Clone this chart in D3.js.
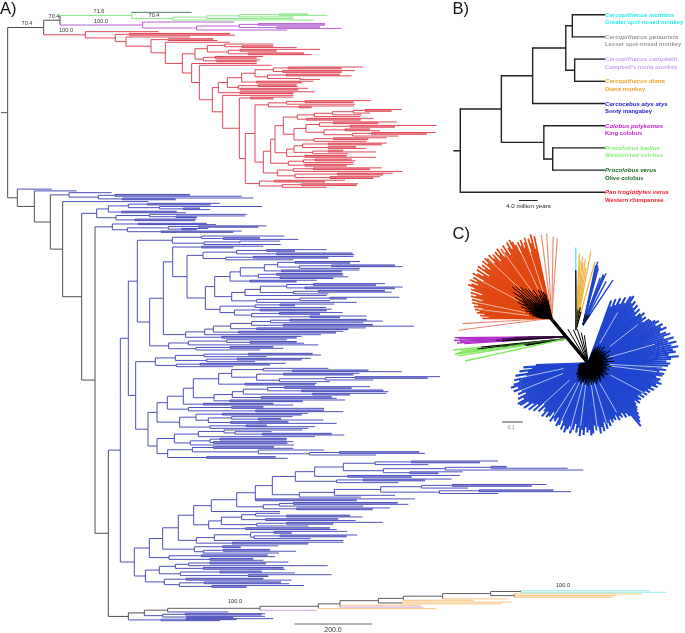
<!DOCTYPE html>
<html><head><meta charset="utf-8">
<script src="https://cdnjs.cloudflare.com/ajax/libs/d3/7.8.5/d3.min.js"></script>
<style>html,body{margin:0;padding:0;background:#fff}svg{display:block;filter:blur(0.3px)}text{font-family:"Liberation Sans",Arial,sans-serif}</style>
</head><body><svg id="c" width="685" height="633"></svg>
<script>
// ---------- Panel A data: node = [depth, child, child...], tip = depth ----------
const darkGreenTip=[575];
const greenClade=[395,darkGreenTip,[517,[620,[718,[838,925,982],880],880],940]];
const purpleClade=[428,702,[590,[718,[775,975,975],[830,960,1025]],862]];
const redClade=[256,476,[346,[388,690,705],[378,570,[453,[505,640,652],[496,690,[547,
 [585,[622,[674,820,[726,820,890]],[685,[720,960,830],[745,912,935]]],[610,[645,790,770],[650,780,770]]],
 [575,770,[598,815,[637,
  [655,[682,[725,[765,[820,[865,1090,1025],[848,1065,1025]],[803,[858,1020,1055],[900,900,960]]],[770,940,905]],[715,[775,890,893],[722,925,895]]],[720,945,880]],
  [668,880,[718,[752,880,820],[736,
   [765,[805,[860,[915,1112,1060],1065],[897,1062,935]],
    [790,[812,[825,
      [850,[892,[943,[997,[1060,[1095,1205,1175],1110],1085],1080],[920,1120,1082]],
       [882,[918,[958,[1000,1190,1135],[1050,1310,1185]],[972,[1035,1110,1140],[1058,[1115,1307,1280],1195]]],[942,[1000,1160,1105],1100]]],
      [860,[882,[908,[985,1160,1145],[985,1068,1098]],[938,[985,1030,1128],1045]],[915,1040,1128]]],
     [865,[910,[945,1055,1067],1060],[915,1060,1040]]],
     [832,[880,[940,1145,1110],1207],[885,[1013,1178,1150],[990,1140,1120]]]]],
   [778,[823,1035,975],[847,[905,1075,1070],980]]]]]]]]]]]]]];
const stemTips=[207,335,[295,[345,570,725],[368,760,527]]];
const b1=[290,[325,[385,[442,660,632],[478,787,[550,600,630]]],[365,530,558]],[348,[448,740,[528,735,590]],[405,590,585]]];
const b2=[337,[415,620,648],[382,[505,[595,800,775],[545,625,590]],[483,725,700]]];
const c1=[517,[605,853,[670,780,895]],[612,[720,840,718],842]];
const c2=[605,790,700];
const c3=[609,[710,[800,980,885],[830,1058,1063]],[677,[760,1060,985],880]];
const c4=[616,[644,[690,[721,[793,[833,[885,1080,1050],[898,[995,1185,1208],1080]],[845,1078,1025]],[775,[830,1028,1030],[840,1045,1000]]],[750,950,890]],
 [695,[735,[781,[860,[940,1155,1128],[915,1208,1185]],[880,[955,1155,1175],985]],980],[770,[900,[990,1198,1040],990],1070]]],
 [660,[765,[840,1003,885],978],[703,[780,995,980],[755,[838,1028,960],[930,1100,1020]]]]];
const c5=[557,[614,[640,[692,[755,[812,[870,1100,1148],1090],[850,1118,1242]],[770,1098,1045]],[715,1030,1008]],963],[665,905,890]];
const c6=[506,[565,[680,860,[750,890,912]],955],[588,[690,820,850],780]];
const b3=[412,c1,[449,[490,[518,c2,[561,c3,c4]],c5],c6]];
const k1=[466,[526,[612,[745,938,963],800],[620,[712,932,905],765]],[529,[600,857,810],700]];
const k2=[656,[695,[790,985,[877,1105,1205]],[770,[850,1078,1060],[838,[977,[1065,1320,1283],1120],990]]],[735,950,945]];
const k3=[642,[697,[730,[803,[853,1110,1055],[905,1150,1165]],[938,1160,1050]],[783,995,1010]],[690,1035,908]];
const k4=[610,820,880];
const k5=[565,[695,790,972],[767,972,1030]];
const k6=[539,[588,[667,925,905],[625,[695,878,[775,843,970]],[692,865,1010]]],[630,[738,800,945],925]];
const k8=[523,[595,[672,908,[705,815,[787,995,1033]]],945],[571,[630,[660,860,860],[640,880,862]],882]];
const k9=[503,[577,[640,822,880],[775,972,[928,[1018,1258,1275],1128]]],[620,827,863]];
const b4=[407,k1,[444,[471,[502,[550,[580,k2,k3],k4],k5],k6],[471,k8,k9]]];
const e1=[886,[944,[1030,[1125,[1234,1494,1440],1285],[1150,[1336,[1473,1520,1703],1750],[1230,1388,1315]]],[1043,1380,1235]],[1010,[1090,1355,1275],1195]];
const e2=[898,[1003,[1142,[1265,[1357,1640,1595],1403],[1318,[1437,1660,1713],1495]],1185],1083];
const e4=[790,[838,[880,1193,1225],1090],[890,1170,1118]];
const e6=[626,[664,[725,[767,840,[860,1050,1088]],[797,1015,1067]],[770,[860,1148,1000],925]],[737,990,1010]];
const e7=[589,[643,[752,[822,1042,875],[762,[840,1072,1040],932]],1030],[697,1030,925]];
const e8=[583,[668,835,722],[610,[670,810,888],837]];
const e9=[507,[605,803,825],[630,760,790]];
const e10=[436,[478,[526,[566,[630,865,798],983],[610,850,855]],[541,[660,785,885],[745,995,805]]],[493,[558,790,875],[538,[613,843,868],[636,912,740]]]];
const b5=[403,[448,[488,[535,[581,[634,[710,[766,[817,e1,e2],[767,1245,1070]],e4],840],e6],e7],e8],e9],e10];
const bottomBlue=[483,[558,820,710],660];
const bottomBlue2=[488,[555,795,785],[560,795,700]];
const cyanTips=[[1950],[2000]];
const orangeTips=[[1925],[1848],[1835],[1525],[1420],[1535],[1505],[1260],[1310]];
const violetTips=[[1270],[950]];
const blueTip=[[685]];
const cercoClade=[503,[607,[780,[955,[1020,[1135,[1210,[1328,[1472,[1562,cyanTips[0],cyanTips[1]],[1543,orangeTips[0],orangeTips[1],orangeTips[2]]],orangeTips[3]],orangeTips[4]],[1205,orangeTips[5],orangeTips[6]]],orangeTips[7],violetTips[0]],orangeTips[8]],violetTips[1]]],blueTip[0]];
const midClade=[361,[385,b3,b4],b5];
const treeA=[23,[131,[180,greenClade,purpleClade],redClade],
 [52,155,[103,230,[151,stemTips,[188,445,[245,b1,[285,b2,[325,midClade,[385,[433,cercoClade,bottomBlue2],bottomBlue]]]]]]]]];
const supportLabels=["70.4","70.4","71.6","100.0","70.4","100.0","100.0","100.0"];
const scaleLabelA="200.0";
// ---------- Panel B data ----------
const treeB=[0,[8.8,[15.5,[22.6,[24,31,31],[24.5,31,31]],31],[17.9,31,[19.8,31,31]]],31];
const speciesNames=["Cercopithecus nictitans","Cercopithecus petaurista","Cercopithecus campbelli","Cercopithecus diana","Cercocebus atys atys","Colobus polykomos","Procolobus badius","Procolobus verus","Pan troglodytes verus"];
const commonNames=["Greater spot-nosed monkey","Lesser spot-nosed monkey","Campbell's mona monkey","Diana monkey","Sooty mangabey","King colobus","Western red colobus","Olive colobus","Western chimpanzee"];
const scaleLabelB="4.0 million years";
// ---------- Panel C data (branch lengths in 1/1000 substitutions) ----------
const blueLens=[318,290,332,305,345,320,360,335,378,386,352,370,340,362,330,355,318,342,360,335,352,325,358,362,
378,392,368,400,385,410,372,398,415,380,425,395,432,405,435,408,420,385,432,395,372,390,
380,352,372,340,365,358,330,352,345,362,338,349,320,338,310,325,300,318,290,312,282,305,295,310,285,300,315,322,340,358,372,390,
320,298,315,285,305,292,310,280,300,290,305,288,318,300,325,292,332,310,340,305,322,298,335,344,318,
330,305,342,318,349,310,335,295,325,345,312,330,349,318,342,300,325,336,295,320,310,332,285,315,326,300,336,
310,295,330,285,345,310,360,325,372,340,380,387,350,375,330,365,345,380,355,387,370,340,362,300,352,290,330,270,310,250];
const blueInner=[55,70,48,85,60,72,50,95,62,80,55,100,68,48,82,60,110,72,55,90,
 65,48,100,75,55,80,120,62,95,50,85,70,108,58,88,48,75,118,66,55,
 95,80,125,60,88,70,62,100,75,55,112,82,66,48,92,70,104,55,80,66,
 95,52,88,75,108,62,82,55,98,70,92,60,104,66,80,55,88,70,95,62,
 104,72,55,88,66,98,58,80,108,62,92,70,55,98,75,88,60,104,66,80,
 55,95,66,108,75,60,92,70,104,55,82,66,95,62,88,75,104,55,80,66,
 92,60,98,70,58,82,66,88,60,75,50,70,58,80,52,66,48,62,55,44,
 58,48,55,44,52,40,48,36,44,32,48,40,52,36,44,32,40,30,36,28];
const blueGaps=[[30,110,280],[52,130,300],[74,100,330],[93,100,360],[97,90,330],[118,120,300],[150,110,270],[163,100,300],[172,90,320],[187,100,300],[195,90,330],[205,100,310],[213,110,300],[228,120,330],[248,130,350],[258,120,330]];
const redLens=[400,340,413,370,395,330,405,385,360,402,375,398,345,390,410,425,380,420,395,360,418,385,408,370,422,390,415,365,412,395,425,378,418,428,
400,428,375,418,395,430,360,425,385,412,433,370,420,398,430,385,415,428,395,409,350,405,375,398,340,390,362,385,355,375,330,368,345,358,320,341,300,330];
const redInner=[90,60,120,75,55,130,85,65,140,70,105,60,150,80,55,125,70,95,
 60,160,85,65,130,55,175,90,70,190,100,65,210,120,75,230,140,85,
 240,110,190,80,220,100,165,75,200,95,150,65,180,85,130,60,155,80,
 110,55,130,70,95,50,110,65,85,45,95,55,75,40,65,45,55,35];
const redGaps=[[-18,130,400],[-25,150,380],[-36,160,400],[-47,200,410],[-62,180,400],[-78,130,380],[-83,110,350]];
const salmonBranches=[[4,381],[1,389],[-3.4,405],[-7,400],[-93.4,425],[-97.3,447]];
const purpleBranches=[[-90.5,524,175],[-91,505,240],[-91.9,530,300],[-92.5,500,280],[-93.3,515,330],[-93.9,480,300]];
const greenBranches=[[-95.6,535,400],[-96.6,500,420],[-97.4,515,300],[-97.9,530,200],[-99,515,190],[-102.4,487,0]];
const orangeBranches=[[2.5,365,85],[3.5,330,85],[5,350,95],[6,320,100],[7.5,340,90],[9,300,95],[10.7,382,110],[15.5,338,90]];
const cyanBranches=[[-0.2,393,285]];
const upperBlueBranches=[[12,290,50],[13,310,50],[14,290,60],[15,280,50],[20,240,50],[22,260,50],[23,255,60],[24,270,50],[28,235,50],[33.7,257,60]];
const spineBranches=[[-39.8,310],[-24,175],[-18,170],[-13,150],[-31,190],[-8,135]];
const pinkBranch=[[235.6,380,280]];
const scaleLabelC="0.1";

// ---------- Panel A ----------
const svg=d3.select("#c");
const PX=1/3;
const xA=d3.scaleLinear().domain([0,2055]).range([0,685]);
const BLUE="#4348b8",RED="#dc3f4e",PURPLE="#b457cf",GREEN="#86e583",DARK="#444",ORG="#f8cf96",CY="#aaf0ee",VIO="#dcb6e0";
const colorOf=new Map([[greenClade,GREEN],[darkGreenTip,"#3f7a52"],[purpleClade,PURPLE],[redClade,RED],[stemTips,BLUE],[b1,BLUE],[b2,BLUE],[midClade,BLUE],[bottomBlue,BLUE],[bottomBlue2,BLUE],[cercoClade,"#555"]]);
cyanTips.forEach(t=>colorOf.set(t,CY));orangeTips.forEach(t=>colorOf.set(t,ORG));violetTips.forEach(t=>colorOf.set(t,VIO));blueTip.forEach(t=>colorOf.set(t,BLUE));
const hA=d3.hierarchy(treeA,d=>Array.isArray(d)?d.slice(1):null);
const leaves=hA.leaves();
const rankOf=new Map(leaves.map((l,i)=>[l,i]));
const bands=[[greenClade,37,60],[purpleClade,66,90],[redClade,95,562],[b1,610,662],[b2,670,697],[b3,708,1050],[b4,1060,1375],[b5,1383,1762],[cercoClade,1772,1836],[bottomBlue2,1841,1853],[bottomBlue,1856,1862]];
const dom=[-1],ran=[32];
hA.descendants().forEach(n=>{const b=bands.find(k=>k[0]===n.data);if(b){const ls=n.leaves();n._band=[rankOf.get(ls[0]),rankOf.get(ls[ls.length-1]),b[1],b[2]];}});
hA.descendants().filter(n=>n._band).sort((a,b)=>a._band[0]-b._band[0]).forEach(n=>{dom.push(n._band[0],n._band[1]);ran.push(n._band[2],n._band[3]);});
const yA=d3.scaleLinear().domain(dom).range(ran);
hA.eachBefore(n=>{
 n.px=Array.isArray(n.data)?n.data[0]:n.data;
 const own=colorOf.get(n.data);
 n.col=own||(n.parent?(n.children?n.parent.col:(n.parent.col===DARK?BLUE:n.parent.col)):DARK);
});
hA.eachAfter(n=>{n.py=n.children?(n.children[0].py+n.children[n.children.length-1].py)/2:yA(rankOf.get(n));});
const segs=hA.descendants();
// pale bands where two sister tips run side by side
const cherries=segs.filter(n=>n.children&&n.children.length===2&&n.children.every(c=>!c.children)&&n.col!=="#555");
svg.append("g").selectAll("rect").data(cherries).join("rect")
 .attr("x",d=>xA(d.px)).attr("width",d=>xA(Math.min(d.children[0].px,d.children[1].px))-xA(d.px))
 .attr("y",d=>d.children[0].py*PX).attr("height",d=>(d.children[1].py-d.children[0].py)*PX)
 .attr("fill",d=>d3.interpolateRgb(d.col,"#fff")(0.42));
const gA=svg.append("g").attr("fill","none").attr("stroke-width",0.95);
gA.selectAll("path").data(segs).join("path").attr("stroke",d=>d.col).attr("stroke-width",d=>(d.col===ORG||d.col===CY||d.col===VIO)?1.3:0.95).attr("d",d=>{
 const p=d3.path();const y=d.py*PX;
 p.moveTo(xA(d.parent?d.parent.px:3),y);p.lineTo(xA(d.px),y);
 if(d.children){p.moveTo(xA(d.px),d.children[0].py*PX);p.lineTo(xA(d.px),d.children[d.children.length-1].py*PX);}
 return p;});
const T=(x,y,t,s,o={})=>svg.append("text").attr("x",x).attr("y",y).attr("font-size",s).attr("fill",o.f||"#222").attr("text-anchor",o.a||"start").attr("font-style",o.i?"italic":"normal").attr("font-weight",o.b?"bold":"normal").text(t);
T(0,13.5,"A)",16.5,{f:"#111"});T(452.5,13.5,"B)",16.5,{f:"#111"});T(452.5,239,"C)",16.5,{f:"#111"});
[[27,25],[54,18],[99,13],[101,23],[154,17],[66,32],[235,603],[563,587]].forEach((p,i)=>T(p[0],p[1],supportLabels[i],5.6,{a:"middle",f:"#333"}));
svg.append("line").attr("x1",xA(883)).attr("x2",xA(1117)).attr("y1",624).attr("y2",624).attr("stroke","#555").attr("stroke-width",0.9);
T(333,632,scaleLabelA,7,{a:"middle",f:"#333"});

// ---------- Panel B ----------
const xB=d3.scaleLinear().domain([0,31]).range([460.3,605]);
const yB=d3.scaleLinear().domain([0,8]).range([14.7,192.3]);
const hB=d3.hierarchy(treeB,d=>Array.isArray(d)?d.slice(1):null);
const lb=hB.leaves();lb.forEach((l,i)=>{l.i=i;l.py=yB(i);});
hB.eachAfter(n=>{n.v=Array.isArray(n.data)?n.data[0]:n.data;if(n.children)n.py=(n.children[0].py+n.children[n.children.length-1].py)/2;});
svg.append("g").attr("fill","none").attr("stroke","#222").attr("stroke-width",1.4).selectAll("path").data(hB.descendants()).join("path").attr("d",d=>{
 const p=d3.path();p.moveTo(d.parent?xB(d.parent.v):453.3,d.py);p.lineTo(xB(d.v),d.py);
 if(d.children){p.moveTo(xB(d.v),d.children[0].py-0.7);p.lineTo(xB(d.v),d.children[d.children.length-1].py+0.7);}return p;});
const speciesColors=["#27ecec","#9a9a9a","#c9a5f2","#f5a52a","#2222c8","#c21fc4","#86ee76","#1f6a22","#ee1c2c"];
speciesNames.forEach((s,i)=>{T(605,yB(i)+2,s,6.1,{f:speciesColors[i],i:1,b:1});T(605,yB(i)+9.4,commonNames[i],5.9,{f:speciesColors[i],b:1});});
svg.append("line").attr("x1",xB(12.57)).attr("x2",xB(16.57)).attr("y1",200.5).attr("y2",200.5).attr("stroke","#222").attr("stroke-width",1);
T(528.5,208,scaleLabelB,6.2,{a:"middle",f:"#222"});

// ---------- Panel C ----------
const rC=d3.scaleLinear().domain([0,100]).range([0,21]);
const pt=(o,a,v)=>{const q=d3.pointRadial(a*Math.PI/180,rC(v));return [o[0]+q[0],o[1]+q[1]];};
const gC=svg.append("g").attr("fill","none").attr("stroke-linecap","butt");
const spoke=(o,a,v,c,w,v0=0)=>{const s=pt(o,a,v0),e=pt(o,a,v);gC.append("line").attr("x1",s[0]).attr("y1",s[1]).attr("x2",e[0]).attr("y2",e[1]).attr("stroke",c).attr("stroke-width",w);};
const hub=[588.3,363.3],redO=[551.7,318.3],upO=[576,330],upBlueO=[583,325],purO=[565,336.7],grnO=[565,339];
const aBlue=d3.scaleLinear().domain([0,blueLens.length-1]).range([20,268]);
const aRed=d3.scaleLinear().domain([0,redLens.length-1]).range([-12,-90]);
const cB="#1f45cf",cR="#e0460f";
salmonBranches.forEach(b=>spoke(redO,b[0],b[1],"#e9876b",1.1));
redLens.forEach((v,i)=>spoke(redO,aRed(i),v,cR,1.75));
redGaps.forEach(g=>spoke(redO,g[0],g[2],"#fff",0.6,g[1]));
pinkBranch.forEach(b=>{spoke(hub,b[0],b[1],"#e2a6e0",1);});
blueLens.forEach((v,i)=>spoke(hub,aBlue(i),v,cB,2.1));
blueGaps.forEach(g=>spoke(hub,g[0],g[2],"#fff",0.65,g[1]));
upperBlueBranches.forEach(b=>{spoke(upBlueO,b[0],b[1],cB,1.4);spoke(upBlueO,b[0],b[2],"#000",1.1);});
orangeBranches.forEach(b=>{spoke(upO,b[0],b[1],"#efb23f",1.2);spoke(upO,b[0],b[2],"#000",1.1);});
cyanBranches.forEach(b=>{spoke(upO,b[0],b[1],"#5ee8ea",1.4);spoke(upO,b[0],b[2],"#000",1.3);});
purpleBranches.forEach(b=>{spoke(purO,b[0],b[1],"#b02fc9",1.5);spoke(purO,b[0],b[2],"#000",1.2);});
greenBranches.forEach(b=>{spoke(grnO,b[0],b[1],"#7fe85f",1.4);spoke(grnO,b[0],b[2],"#000",1.3);});
redLens.forEach((v,i)=>spoke(redO,aRed(i),redInner[i],"#000",1));
blueLens.forEach((v,i)=>spoke(hub,aBlue(i),blueInner[i],"#000",1.05));
spineBranches.forEach((b,i)=>spoke(hub,b[0],b[1],"#000",i==0?3.4:1));
svg.append("line").attr("x1",502).attr("x2",522.8).attr("y1",422).attr("y2",422).attr("stroke","#888").attr("stroke-width",1.6);
T(511,429,scaleLabelC,5,{a:"middle",f:"#888",i:1});
</script></body></html>
